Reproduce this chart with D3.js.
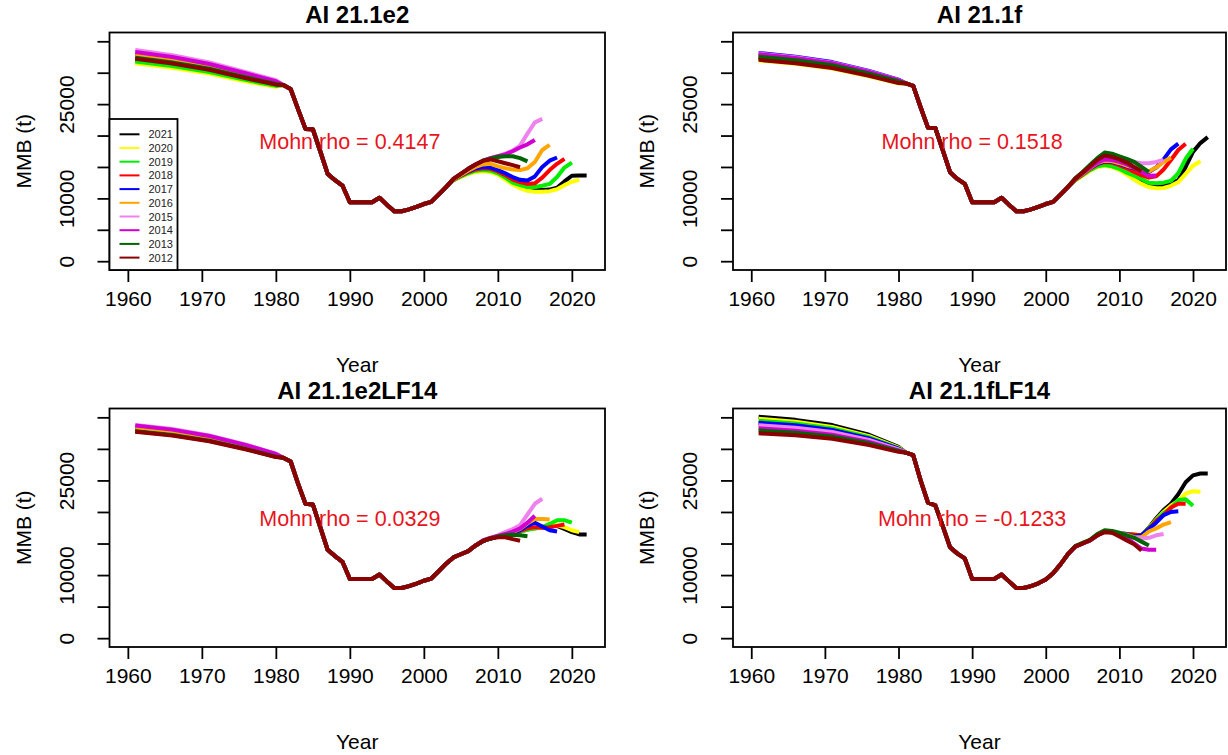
<!DOCTYPE html>
<html>
<head>
<meta charset="utf-8">
<script src="https://cdn.jsdelivr.net/npm/d3@7"></script>
<style>
  body { margin: 0; background: #fff; }
  text { font-family: "Liberation Sans", Arial, sans-serif; }
</style>
</head>
<body>
<svg id="chart" width="1228" height="755"></svg>
<script>
/* ---------------------------------------------------------------
   Retrospective MMB — 4 runs, 10 peels each
---------------------------------------------------------------- */

const peels = ["2021", "2020", "2019", "2018", "2017", "2016", "2015", "2014", "2013", "2012"];
const peelColors = ["#000000", "#ffff00", "#00ee00", "#ff0000", "#0000ff", "#ffa500", "#ee82ee", "#d000d0", "#006400", "#8b0000"];

// years where the peels still differ at the start of the series
const earlyYears = [1961, 1966, 1971, 1976, 1980];
// shared stretch of the series (one value per year)
const midYears = d3.range(1981, 2004);
// each peel's own tail starts here and runs to peel + 1
const tailStart = 2004;

const xTicks = [1960, 1970, 1980, 1990, 2000, 2010, 2020];
const yTicks = [0, 5000, 10000, 15000, 20000, 25000, 30000, 35000];
const yLabels = [0, 10000, 25000];

/* ---------- AI 21.1e2 ---------- */
const e2Early = [
  [32000, 31260, 30280, 28960, 28000],
  [31500, 30790, 29860, 28610, 27750],
  [31800, 31070, 30110, 28820, 27900],
  [32500, 31740, 30710, 29310, 28250],
  [32700, 31930, 30880, 29450, 28350],
  [32800, 32020, 30960, 29520, 28400],
  [33600, 32780, 31640, 30080, 28800],
  [33300, 32500, 31390, 29870, 28650],
  [32400, 31640, 30620, 29240, 28200],
  [32200, 31450, 30450, 29100, 28100]
];
const e2Mid = [28050, 27400, 24200, 21060, 21000, 17500, 13900, 12900, 12040, 9390, 9390, 9380, 9390, 10090, 9000, 7960, 7960, 8250, 8650, 9100, 9450, 10600, 11800];
const e2Tail = [
  [12900, 13500, 14000, 14300, 14400, 14300, 13900, 13200, 12400, 11800, 11400, 11300, 11350, 11400, 11700, 12700, 13600, 13650, 13650],
  [12900, 13400, 13900, 14200, 14300, 14200, 13800, 13000, 12200, 11600, 11200, 11050, 11050, 11150, 11450, 12100, 12650, 12950],
  [12950, 13500, 14000, 14400, 14500, 14400, 14000, 13300, 12500, 12100, 11800, 11800, 12000, 12300, 13400, 14900, 15700],
  [13000, 13600, 14200, 14600, 14800, 14700, 14300, 13700, 13000, 12600, 12300, 12400, 13300, 14500, 15500, 16300],
  [13000, 13700, 14300, 14800, 15000, 14900, 14500, 14000, 13400, 12950, 12850, 13500, 15000, 16000, 16500],
  [13000, 13700, 14400, 15000, 15400, 15500, 15100, 14800, 14600, 14500, 14800, 15800, 17700, 18500],
  [13100, 13900, 14700, 15400, 16000, 16400, 16700, 17100, 17600, 18400, 20300, 22100, 22650],
  [13100, 13900, 14700, 15400, 16000, 16400, 16700, 17000, 17500, 18100, 18600, 19300],
  [13100, 13900, 14700, 15400, 16000, 16300, 16600, 16700, 16700, 16400, 15900],
  [13100, 13900, 14700, 15400, 16000, 16200, 15900, 15600, 15300, 14950]
];

/* ---------- AI 21.1f ---------- */
const fEarly = [
  [32300, 31740, 30960, 29680, 28480],
  [31950, 31410, 30670, 29430, 28300],
  [32250, 31690, 30920, 29640, 28450],
  [32450, 31880, 31090, 29780, 28550],
  [33150, 32550, 31690, 30270, 28900],
  [32750, 32170, 31350, 29990, 28700],
  [33050, 32450, 31600, 30200, 28850],
  [32950, 32360, 31520, 30130, 28800],
  [32550, 31980, 31180, 29850, 28600],
  [32050, 31500, 30750, 29500, 28350]
];
const fMid = [28300, 27900, 24500, 21250, 21200, 17700, 14160, 13100, 12310, 9390, 9390, 9380, 9390, 10090, 9000, 7960, 7960, 8250, 8650, 9100, 9450, 10600, 11800];
const fTail = [
  [12900, 13700, 14500, 15100, 15300, 15100, 14600, 14000, 13300, 12700, 12200, 12000, 12000, 12300, 12900, 15000, 17400, 18800, 19750],
  [12850, 13600, 14400, 15000, 15200, 15000, 14500, 13800, 13000, 12300, 11800, 11600, 11650, 12000, 12600, 13900, 15200, 15900],
  [12900, 13700, 14500, 15100, 15300, 15100, 14700, 14100, 13600, 13100, 12500, 12400, 12500, 12800, 14000, 16300, 17900],
  [13000, 13800, 14700, 15400, 15800, 15700, 15300, 14800, 14200, 13700, 13300, 13500, 14600, 16100, 17700, 18700],
  [13000, 13900, 14800, 15500, 15900, 15800, 15500, 15100, 14800, 14400, 14200, 14900, 16200, 17800, 18700],
  [13000, 13900, 14800, 15600, 16000, 15900, 15600, 15200, 14900, 14500, 14300, 14900, 15800, 16500],
  [13100, 14000, 15000, 15800, 16400, 16400, 16200, 16000, 15800, 15600, 15600, 15800, 16100],
  [13100, 14000, 14900, 15700, 16200, 16100, 15800, 15400, 14900, 14200, 13600, 13650],
  [13200, 14200, 15300, 16400, 17300, 17100, 16700, 16300, 15800, 15000, 14200],
  [13100, 14100, 15100, 16100, 16800, 16600, 16200, 15700, 15000, 14300]
];

/* ---------- AI 21.1e2LF14 ---------- */
const e2lfEarly = [
  [32900, 32290, 31370, 30040, 28800],
  [33000, 32390, 31460, 30110, 28850],
  [33100, 32480, 31540, 30180, 28900],
  [33200, 32580, 31630, 30250, 28950],
  [33300, 32670, 31710, 30320, 29000],
  [33400, 32770, 31800, 30390, 29050],
  [33800, 33150, 32140, 30670, 29250],
  [33700, 33050, 32050, 30600, 29200],
  [32800, 32200, 31290, 29970, 28750],
  [32700, 32100, 31200, 29900, 28700]
];
const e2lfMid = [28600, 28000, 24500, 21300, 21200, 17600, 14000, 13000, 12100, 9390, 9390, 9380, 9390, 10090, 9000, 7960, 7960, 8250, 8650, 9100, 9450, 10600, 11800];
const e2lfTail = [
  [12800, 13300, 13800, 14700, 15400, 15800, 16100, 16400, 16600, 16900, 17200, 17400, 17500, 17700, 17800, 17300, 16800, 16450, 16450],
  [12800, 13300, 13800, 14700, 15400, 15800, 16100, 16400, 16600, 16900, 17200, 17400, 17500, 17800, 17900, 17600, 17100, 16800],
  [12800, 13300, 13800, 14700, 15400, 15800, 16100, 16400, 16600, 16900, 17200, 17400, 17600, 18100, 18700, 18700, 18300],
  [12800, 13300, 13800, 14700, 15400, 15800, 16100, 16300, 16600, 17000, 17400, 17600, 17500, 17600, 17800, 18000],
  [12800, 13300, 13800, 14700, 15400, 15800, 16100, 16400, 16700, 17100, 17800, 18300, 17700, 17100, 16900],
  [12800, 13300, 13800, 14700, 15500, 15900, 16200, 16500, 16800, 17300, 18200, 18900, 18900, 18800],
  [12800, 13300, 13800, 14700, 15500, 15900, 16300, 16800, 17300, 17900, 19600, 21300, 22100],
  [12800, 13300, 13800, 14700, 15500, 15900, 16200, 16500, 16900, 17400, 18300, 19400],
  [12800, 13300, 13800, 14700, 15400, 15800, 16100, 16300, 16400, 16300, 16150],
  [12800, 13300, 13800, 14700, 15400, 15800, 16000, 16000, 15700, 15450]
];

/* ---------- AI 21.1fLF14 ---------- */
const flfEarly = [
  [35100, 34600, 33770, 32240, 30320],
  [34760, 34290, 33490, 32030, 30220],
  [34460, 34010, 33240, 31840, 30130],
  [34010, 33590, 32870, 31560, 30000],
  [34160, 33730, 32990, 31650, 30040],
  [33560, 33170, 32500, 31280, 29860],
  [33760, 33360, 32670, 31410, 29920],
  [33260, 32890, 32260, 31100, 29770],
  [32910, 32570, 31970, 30880, 29670],
  [32460, 32150, 31600, 30600, 29530]
];
const flfMid = [29400, 29000, 25000, 21500, 21050, 17800, 14400, 13400, 12650, 9390, 9390, 9380, 9390, 10090, 9000, 7960, 7960, 8250, 8700, 9300, 10300, 11700, 13300];
const flfTail = [
  [14500, 15000, 15500, 16300, 16900, 16800, 16600, 16500, 16400, 16300, 17500, 19000, 20300, 21300, 22800, 24700, 25800, 26100, 26100],
  [14500, 15000, 15500, 16300, 16900, 16800, 16600, 16500, 16400, 16300, 17400, 18800, 20000, 21000, 21800, 22900, 23300, 23200],
  [14500, 15000, 15500, 16300, 16900, 16800, 16600, 16500, 16400, 16300, 17400, 18700, 19800, 20600, 21900, 22000, 21000],
  [14500, 15000, 15500, 16300, 16900, 16800, 16600, 16500, 16400, 16300, 17300, 18600, 19500, 20700, 21300, 21300],
  [14500, 15000, 15500, 16300, 16900, 16800, 16600, 16500, 16100, 16300, 17300, 18300, 19500, 20000, 20100],
  [14500, 15000, 15500, 16300, 16900, 16800, 16600, 16400, 16000, 16000, 16900, 17400, 18000, 18400],
  [14500, 15000, 15500, 16300, 16900, 16800, 16500, 16100, 15900, 15800, 15900, 16300, 16500],
  [14500, 15000, 15500, 16300, 16900, 16800, 16400, 15800, 15000, 14200, 14000, 14000],
  [14600, 15100, 15600, 16500, 17100, 17000, 16700, 16300, 15900, 15300, 14700],
  [14500, 15000, 15500, 16300, 16800, 16700, 16100, 15500, 14900, 13900]
];

/* ---------------------------------------------------------------
   PANELES
---------------------------------------------------------------- */

const panels = [
  { title: "AI 21.1e2", rho: "Mohn rho = 0.4147", early: e2Early, mid: e2Mid, tail: e2Tail,
    box: { left: 109.5, top: 32.5, right: 605, bottom: 270 }, legend: true },
  { title: "AI 21.1f", rho: "Mohn rho = 0.1518", early: fEarly, mid: fMid, tail: fTail,
    box: { left: 733, top: 32.5, right: 1226, bottom: 270 } },
  { title: "AI 21.1e2LF14", rho: "Mohn rho = 0.0329", early: e2lfEarly, mid: e2lfMid, tail: e2lfTail,
    box: { left: 109.5, top: 408.5, right: 605, bottom: 647 } },
  { title: "AI 21.1fLF14", rho: "Mohn rho = -0.1233", early: flfEarly, mid: flfMid, tail: flfTail,
    box: { left: 733, top: 408.5, right: 1226, bottom: 647 } }
];

const FONT = "Liberation Sans, Arial, sans-serif";
const svg = d3.select("#chart");

function peelSeries(p, i) {
  const pts = [];
  earlyYears.forEach((yr, k) => pts.push([yr, p.early[i][k]]));
  midYears.forEach((yr, k) => pts.push([yr, p.mid[k]]));
  p.tail[i].forEach((v, k) => pts.push([tailStart + k, v]));
  return pts;
}

function drawPanel(p) {
  const b = p.box;
  const x = d3.scaleLinear().domain([1957.52, 2024.48]).range([b.left, b.right]);
  const y = d3.scaleLinear().domain([-1400, 36400]).range([b.bottom, b.top]);
  const g = svg.append("g");

  // series
  const line = d3.line().x(d => x(d[0])).y(d => y(d[1]));
  peels.forEach((name, i) => {
    g.append("path")
      .attr("d", line(peelSeries(p, i)))
      .attr("fill", "none")
      .attr("stroke", peelColors[i])
      .attr("stroke-width", 4)
      .attr("stroke-linejoin", "round");
  });

  // box
  g.append("rect")
    .attr("x", b.left).attr("y", b.top)
    .attr("width", b.right - b.left).attr("height", b.bottom - b.top)
    .attr("fill", "none").attr("stroke", "#000").attr("stroke-width", 1.8);

  // axes
  const xAxis = d3.axisBottom(x).tickValues(xTicks).tickFormat(d3.format("d"))
    .tickSize(12).tickPadding(9);
  const gx = g.append("g").attr("transform", `translate(0,${b.bottom})`).call(xAxis);
  gx.select(".domain").remove();
  gx.selectAll("line").attr("stroke-width", 1.8);
  gx.selectAll("text").attr("font-size", 21).attr("fill", "#000").attr("font-family", FONT);

  const yAxis = d3.axisLeft(y).tickValues(yTicks)
    .tickFormat(d => yLabels.includes(d) ? d : "").tickSize(12);
  const gy = g.append("g").attr("transform", `translate(${b.left},0)`).call(yAxis);
  gy.select(".domain").remove();
  gy.selectAll("line").attr("stroke-width", 1.8);
  gy.selectAll("text")
    .attr("font-size", 21).attr("fill", "#000").attr("font-family", FONT)
    .attr("text-anchor", "middle").attr("dy", null).attr("x", null).attr("y", null)
    .attr("transform", "translate(-36,0) rotate(-90)");

  // titles
  const cx = (b.left + b.right) / 2;
  g.append("text").attr("x", cx).attr("y", b.top - 10)
    .attr("text-anchor", "middle").attr("font-size", 24).attr("font-weight", "bold")
    .text(p.title);
  g.append("text").attr("x", cx).attr("y", b.bottom + 102)
    .attr("text-anchor", "middle").attr("font-size", 21).text("Year");
  g.append("text")
    .attr("transform", `translate(${b.left - 79},${(b.top + b.bottom) / 2}) rotate(-90)`)
    .attr("text-anchor", "middle").attr("font-size", 21).text("MMB (t)");

  // Mohn rho
  g.append("text").attr("x", x(1990)).attr("y", y(19000) + 7.5)
    .attr("text-anchor", "middle").attr("font-size", 21.5).attr("fill", "#e8141c")
    .text(p.rho);

  if (p.legend) drawLegend(g, b);
}

function drawLegend(g, b) {
  const lg = g.append("g");
  lg.append("rect")
    .attr("x", b.left).attr("y", 119)
    .attr("width", 68).attr("height", b.bottom - 119)
    .attr("fill", "#fff").attr("stroke", "#000").attr("stroke-width", 1.8);
  peels.forEach((name, i) => {
    const yy = 134.3 + i * 13.7;
    lg.append("line").attr("x1", b.left + 10).attr("x2", b.left + 30)
      .attr("y1", yy).attr("y2", yy)
      .attr("stroke", peelColors[i]).attr("stroke-width", 2);
    lg.append("text").attr("x", b.left + 39).attr("y", yy + 4)
      .attr("font-size", 11).attr("fill", "#222").text(name);
  });
}

panels.forEach(drawPanel);
</script>
</body>
</html>
